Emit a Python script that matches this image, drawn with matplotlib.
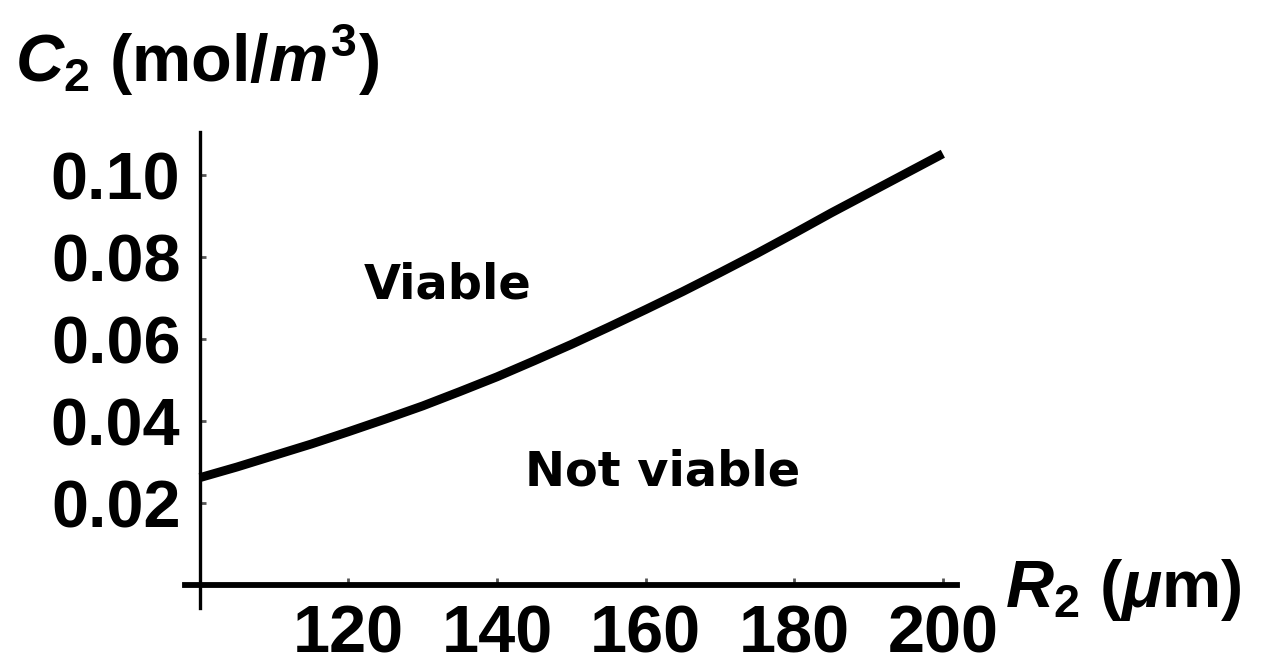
import matplotlib
matplotlib.use("Agg")
import matplotlib.pyplot as plt

# Data
r2_um = [100, 105, 110, 115, 120, 125, 130, 135, 140, 145, 150,
         155, 160, 165, 170, 175, 180, 185, 190, 195, 200]
c2_mol = [0.0262, 0.0288, 0.0316, 0.0344, 0.0374, 0.0405, 0.0437, 0.0472, 0.0508, 0.0547, 0.0587,
          0.0629, 0.0672, 0.0716, 0.0762, 0.0809, 0.0858, 0.0908, 0.0956, 0.1004, 0.1052]
x_ticks = [120, 140, 160, 180, 200]
y_ticks = [0.02, 0.04, 0.06, 0.08, 0.10]
y_tick_labels = ["0.02", "0.04", "0.06", "0.08", "0.10"]

plt.rcParams['mathtext.fontset'] = 'custom'
plt.rcParams['mathtext.rm'] = 'Liberation Sans:bold'
plt.rcParams['mathtext.it'] = 'Liberation Sans:italic:bold'
plt.rcParams['mathtext.bf'] = 'Liberation Sans:bold'

fig = plt.figure(figsize=(12.61, 6.72), dpi=100)
ax = fig.add_axes([0.1467, 0.0952, 0.6122, 0.7083])

ax.plot(r2_um, c2_mol, color='black', linewidth=6.4, solid_capstyle='butt',
        solid_joinstyle='round')

ax.set_xlim(98.0, 201.9)
ax.set_ylim(-0.0056, 0.1105)

for s in ['top', 'right']:
    ax.spines[s].set_visible(False)
ax.spines['left'].set_position(('data', 100))
ax.spines['bottom'].set_position(('data', 0))
ax.spines['left'].set_linewidth(2.4)
ax.spines['bottom'].set_linewidth(4.2)

ax.set_xticks(x_ticks)
ax.set_xticklabels([str(v) for v in x_ticks])
ax.set_yticks(y_ticks)
ax.set_yticklabels(y_tick_labels)

for lab in ax.get_xticklabels() + ax.get_yticklabels():
    lab.set_fontfamily('Liberation Sans')
    lab.set_fontweight('bold')
    lab.set_fontsize(48)

ax.tick_params(axis='x', direction='in', length=5, width=2, color='#555555', pad=14)
ax.tick_params(axis='y', direction='in', length=4, width=2, color='#555555', pad=14)

ax.text(122.0, 0.0700, "Viable", fontfamily='DejaVu Sans', fontweight='bold',
        fontsize=34.5, ha='left', va='baseline')
ax.text(143.7, 0.0244, "Not viable", fontfamily='DejaVu Sans', fontweight='bold',
        fontsize=34.5, ha='left', va='baseline')

fig.text(15 / 1261, (672 - 82) / 672, r"$C_2$ (mol/$m^3$)", fontfamily='Liberation Sans',
         fontweight='bold', fontsize=48, ha='left', va='baseline')
fig.text(1005 / 1261, (672 - 607) / 672, r"$R_2$ ($\mu$m)", fontfamily='Liberation Sans',
         fontweight='bold', fontsize=48, ha='left', va='baseline')

fig.savefig("out.png", dpi=100)
